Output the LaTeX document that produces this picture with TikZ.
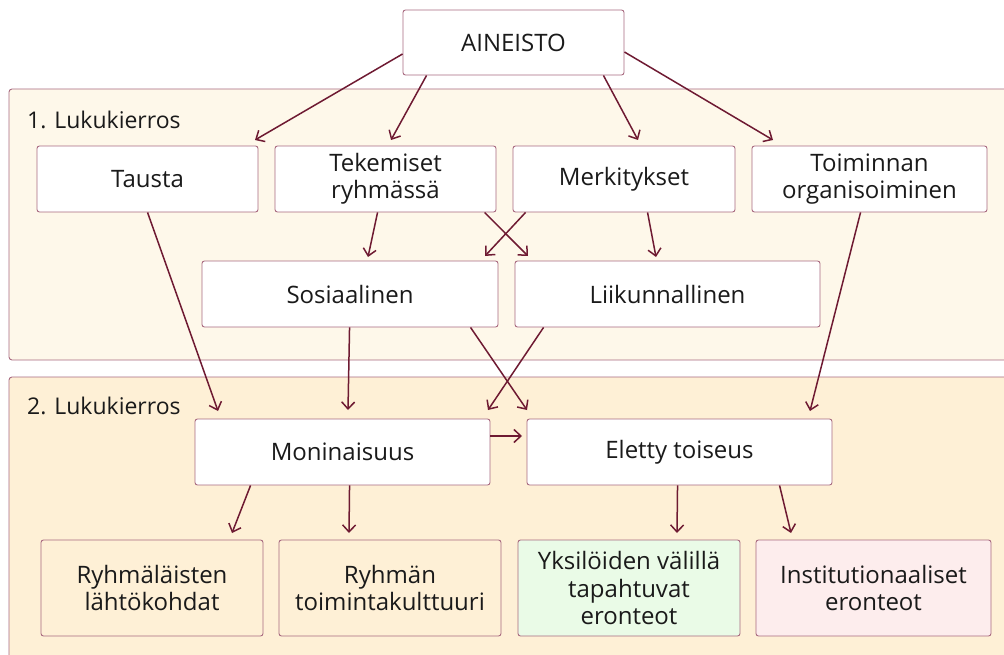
\documentclass[tikz,border=0pt]{standalone}
\usepackage{fontspec}
\setmainfont{Open Sans}
\usetikzlibrary{arrows.meta}
\definecolor{arr}{HTML}{6E1A32}
\definecolor{bord}{HTML}{A86A80}
\definecolor{panelA}{HTML}{FEF8EA}
\definecolor{panelB}{HTML}{FEF0D6}
\definecolor{greenf}{HTML}{EAFBE7}
\definecolor{pinkf}{HTML}{FDEDED}
\definecolor{txt}{HTML}{1A1A1A}
\begin{document}
\begin{tikzpicture}[x=1pt,y=-1pt,
  box/.style={draw=bord,line width=0.9pt,rounded corners=2.5pt,fill=white,align=center,
    text=txt,font=\fontsize{24}{27.5}\selectfont,inner sep=0pt},
  panel/.style={draw=bord,line width=0.9pt,rounded corners=3pt},
  lbl/.style={anchor=west,text=txt,font=\fontsize{23}{26}\selectfont,inner sep=0pt},
  link/.style={draw=arr,line width=1.5pt,-{Straight Barb[length=7pt,width=13pt,line width=1.5pt]}}
]
\useasboundingbox (0,0) rectangle (1004,655);
% panels
\path[panel,fill=panelA] (9,89) rectangle (1012,360);
\path[panel,fill=panelB] (9,377) rectangle (1012,665);
\node[lbl] (l1) at (27,120) {1. Lukukierros};
\node[lbl] (l2) at (27,406) {2. Lukukierros};
% boxes
\newcommand{\bx}[6]{\node[box,#6,minimum width=#3-#1,minimum height=#4-#2] (#5) at ({(#1+#3)/2},{(#2+#4)/2})}
\bx{403}{10}{624}{75}{ain}{}{AINEISTO};
\bx{37}{146}{258}{212}{tau}{}{Tausta};
\bx{275}{146}{496}{212}{tek}{}{Tekemiset\\ryhmässä};
\bx{513}{146}{735}{212}{mer}{}{Merkitykset};
\bx{752}{146}{987}{212}{toi}{}{Toiminnan\\organisoiminen};
\bx{202}{261}{498}{327}{sos}{}{Sosiaalinen};
\bx{515}{261}{820}{327}{lii}{}{Liikunnallinen};
\bx{195}{419}{490}{485}{mon}{}{Moninaisuus};
\bx{527}{419}{832}{485}{ele}{}{Eletty toiseus};
\bx{41}{540}{263}{636}{ryh}{fill=panelB}{Ryhmäläisten\\lähtökohdat};
\bx{279}{540}{501}{636}{ryt}{fill=panelB}{Ryhmän\\toimintakulttuuri};
\bx{518}{540}{740}{636}{yks}{fill=greenf}{Yksilöiden välillä\\tapahtuvat\\eronteot};
\bx{756}{540}{991}{636}{ins}{fill=pinkf}{Institutionaaliset\\eronteot};
% arrow end coordinates
\coordinate (e1) at (255,140);
\coordinate (e2) at (391,140);
\coordinate (e3) at (638,140);
\coordinate (e4) at (773,140);
\draw[link] (ain.west |- 0,54) -- (e1);
\draw[link] (ain.south west) ++(24,0) -- (e2);
\draw[link] (ain.south east) ++(-21,0) -- (e3);
\draw[link] (ain.east |- 0,52) -- (e4);
\draw[link] (tau.south west) ++(111,0) -- (218,411);
\draw[link] (tek.south west) ++(103,0) -- (368,257);
\draw[link] (tek.south west) ++(210,0) -- (528,256);
\draw[link] (mer.south west) ++(13,0) -- (485,256);
\draw[link] (mer.south west) ++(135,0) -- (656,257);
\draw[link] (toi.south west) ++(109,0) -- (810,411);
\draw[link] (sos.south west) ++(148,0) -- (348,410);
\draw[link] (sos.south west) ++(269,0) -- (527,410);
\draw[link] (lii.south west) ++(29,0) -- (488,410);
\draw[link] (mon.east |- 0,436) -- (522,436);
\draw[link] (mon.south west) ++(56,0) -- (232,533);
\draw[link] (mon.south west) ++(155,0) -- (349,533);
\draw[link] (ele.south west) ++(151,0) -- (677,533);
\draw[link] (ele.south west) ++(253,0) -- (791,533);
\end{tikzpicture}
\end{document}
